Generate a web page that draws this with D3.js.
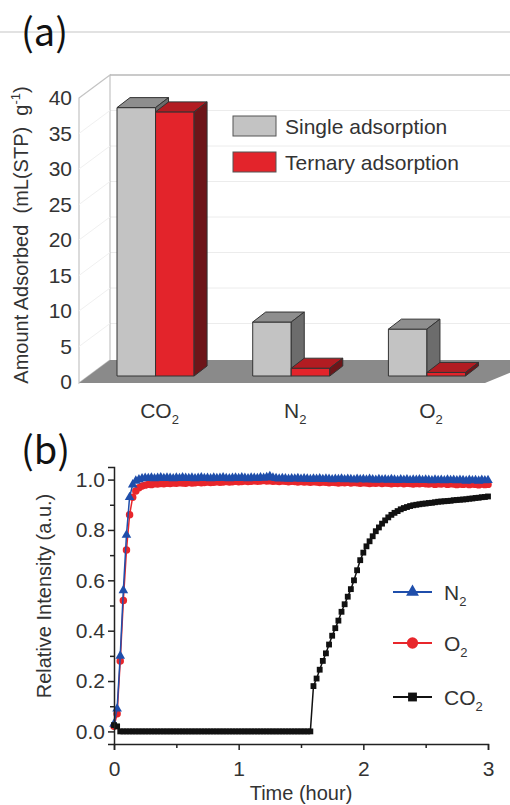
<!DOCTYPE html>
<html>
<head>
<meta charset="utf-8">
<script src="https://cdnjs.cloudflare.com/ajax/libs/d3/7.8.5/d3.min.js"></script>
<style>
body { margin: 0; background: #fff; }
svg { display: block; }
</style>
</head>
<body>
<div id="chart"></div>
<script>
// ---- (a) adsorbed amounts
var gases           =   ['CO2', 'N2', 'O2'];
var series_names    =   ['Single adsorption', 'Ternary adsorption'];
var single_amount   =   [37.8, 7.6, 6.6];
var ternary_amount  =   [37.2, 1.1, 0.5];
var amount_ticks    =   [0, 5, 10, 15, 20, 25, 30, 35, 40];

// ---- (b) breakthrough curves
var time_h = [
    0, 0.025, 0.05, 0.075, 0.1, 0.125, 0.15, 0.175, 0.2, 0.225,
    0.25, 0.275, 0.3, 0.325, 0.35, 0.375, 0.4, 0.425, 0.45, 0.475,
    0.5, 0.525, 0.55, 0.575, 0.6, 0.625, 0.65, 0.675, 0.7, 0.725,
    0.75, 0.775, 0.8, 0.825, 0.85, 0.875, 0.9, 0.925, 0.95, 0.975,
    1.0, 1.025, 1.05, 1.075, 1.1, 1.125, 1.15, 1.175, 1.2, 1.225,
    1.25, 1.275, 1.3, 1.325, 1.35, 1.375, 1.4, 1.425, 1.45, 1.475,
    1.5, 1.525, 1.55, 1.575, 1.6, 1.625, 1.65, 1.675, 1.7, 1.725,
    1.75, 1.775, 1.8, 1.825, 1.85, 1.875, 1.9, 1.925, 1.95, 1.975,
    2.0, 2.025, 2.05, 2.075, 2.1, 2.125, 2.15, 2.175, 2.2, 2.225,
    2.25, 2.275, 2.3, 2.325, 2.35, 2.375, 2.4, 2.425, 2.45, 2.475,
    2.5, 2.525, 2.55, 2.575, 2.6, 2.625, 2.65, 2.675, 2.7, 2.725,
    2.75, 2.775, 2.8, 2.825, 2.85, 2.875, 2.9, 2.925, 2.95, 2.975,
    3.0
];
var n2_signal = [
    0.03, 0.09, 0.30, 0.56, 0.78, 0.93, 0.98, 0.995, 1.0, 1.004,
    1.006, 1.005, 1.007, 1.004, 1.006, 1.008, 1.005, 1.007, 1.006, 1.004,
    1.007, 1.005, 1.008, 1.006, 1.005, 1.007, 1.004, 1.006, 1.008, 1.005,
    1.006, 1.004, 1.007, 1.005, 1.006, 1.008, 1.005, 1.004, 1.006, 1.007,
    1.005, 1.008, 1.006, 1.004, 1.007, 1.006, 1.005, 1.008, 1.006, 1.009,
    1.013, 1.007, 1.005, 1.003, 1.005, 1.004, 1.002, 1.004, 1.003, 1.005,
    1.002, 1.004, 1.003, 1.001, 1.003, 1.002, 1.004, 1.001, 1.003, 1.002,
    1.0, 1.002, 1.001, 1.003, 1.0, 1.002, 1.001, 0.999, 1.002, 1.0,
    1.001, 0.999, 1.002, 1.0, 0.998, 1.001, 0.999, 1.0, 0.998, 1.001,
    0.999, 0.997, 1.0, 0.998, 1.0, 0.997, 0.999, 0.998, 1.0, 0.997,
    0.999, 0.998, 0.996, 0.999, 0.997, 0.998, 0.996, 0.999, 0.997, 0.998,
    0.996, 0.998, 0.997, 0.995, 0.998, 0.996, 0.997, 0.995, 0.998, 0.996,
    0.997
];
var o2_signal = [
    0.02, 0.07, 0.28, 0.52, 0.72, 0.86, 0.93, 0.955, 0.968, 0.975,
    0.978, 0.981, 0.98, 0.983, 0.982, 0.984, 0.983, 0.985, 0.984, 0.986,
    0.985, 0.987, 0.986, 0.985, 0.988, 0.986, 0.987, 0.989, 0.987, 0.988,
    0.99, 0.988, 0.989, 0.991, 0.989, 0.99, 0.992, 0.99, 0.991, 0.993,
    0.991, 0.992, 0.994, 0.992, 0.993, 0.995, 0.993, 0.994, 0.996, 0.994,
    0.995, 0.993, 0.994, 0.992, 0.994, 0.993, 0.991, 0.993, 0.992, 0.99,
    0.992, 0.99, 0.991, 0.989, 0.991, 0.99, 0.988, 0.99, 0.989, 0.987,
    0.989, 0.988, 0.986, 0.988, 0.987, 0.989, 0.986, 0.988, 0.987, 0.985,
    0.987, 0.986, 0.984, 0.986, 0.985, 0.987, 0.984, 0.986, 0.985, 0.983,
    0.985, 0.984, 0.986, 0.983, 0.985, 0.984, 0.982, 0.984, 0.983, 0.985,
    0.983, 0.982, 0.984, 0.981, 0.983, 0.982, 0.984, 0.981, 0.983, 0.982,
    0.98, 0.982, 0.981, 0.983, 0.98, 0.982, 0.981, 0.979, 0.982, 0.98,
    0.981
];
var co2_signal = [
    0.025, 0.02, 0, 0, 0, 0, 0, 0, 0, 0,
    0, 0, 0, 0, 0, 0, 0, 0, 0, 0,
    0, 0, 0, 0, 0, 0, 0, 0, 0, 0,
    0, 0, 0, 0, 0, 0, 0, 0, 0, 0,
    0, 0, 0, 0, 0, 0, 0, 0, 0, 0,
    0, 0, 0, 0, 0, 0, 0, 0, 0, 0,
    0, 0, 0, 0, 0.18, 0.21, 0.245, 0.28, 0.31, 0.345,
    0.38, 0.41, 0.44, 0.475, 0.505, 0.535, 0.565, 0.60, 0.64, 0.68,
    0.71, 0.735, 0.755, 0.775, 0.795, 0.81, 0.825, 0.838, 0.85, 0.86,
    0.868, 0.875, 0.882, 0.887, 0.891, 0.895, 0.898, 0.90, 0.902, 0.904,
    0.905, 0.907, 0.908, 0.91, 0.912, 0.913, 0.914, 0.915, 0.916, 0.918,
    0.919, 0.92, 0.921, 0.922, 0.924, 0.925, 0.927, 0.928, 0.93, 0.931,
    0.933
];
var time_ticks      =   [0, 1, 2, 3];
var intensity_ticks =   [0, 0.2, 0.4, 0.6, 0.8, 1.0];

var chart_width     =   510;
var chart_height    =   805;
var font            =   'Liberation Sans, Arial, Helvetica, sans-serif';
var text_color      =   '#333';

var svg = d3.select('#chart')
    .append('svg')
    .attr('width', chart_width)
    .attr('height', chart_height);

// chemical formula with subscript digits
function add_formula(sel, formula, sub_size, sub_dy) {
    var m = formula.match(/^([A-Za-z]+)(\d*)$/);
    sel.append('tspan').text(m[1]);
    if (m[2]) {
        sel.append('tspan').attr('dy', sub_dy).attr('font-size', sub_size).text(m[2]);
    }
}

// separator line on top
svg.append('line')
    .attr('x1', 0).attr('x2', chart_width)
    .attr('y1', 32).attr('y2', 32)
    .attr('stroke', '#c6c6c6')
    .attr('stroke-width', 1.2);

// panel letters
[['(a)', 46], ['(b)', 464]].forEach(function(p) {
    svg.append('text')
        .attr('x', 21).attr('y', p[1])
        .attr('font-family', 'Noto Sans CJK SC, Noto Sans, sans-serif')
        .attr('font-size', 38)
        .attr('fill', '#111')
        .text(p[0]);
});

// =============== (a) 3D bar chart ===============
var wall_x      =   79;     // front-left edge of side wall
var back_dx     =   31;     // depth of the box
var back_dy     =   -23;
var bar_dx      =   13;     // depth of each bar
var bar_dy      =   -10;
var plane_dy    =   -6;     // bars stand a bit behind the front edge

var y_a = d3.scaleLinear()
    .domain([0, 40])
    .range([382, 98]);

var x_gas = d3.scaleBand()
    .domain(gases)
    .range([117, 465.5])
    .paddingInner(0.432)
    .paddingOuter(0);

var x_series = d3.scaleBand()
    .domain(series_names)
    .range([0, x_gas.bandwidth()]);

var ga = svg.append('g');

function pts(arr) {
    return arr.map(function(p) { return p[0] + ',' + p[1]; }).join(' ');
}

var y_floor = y_a(0) + 1;
var y_top   = y_a(40);

// back wall
ga.append('rect')
    .attr('x', wall_x + back_dx).attr('y', y_top + back_dy)
    .attr('width', chart_width).attr('height', y_floor - y_top)
    .attr('fill', '#fff');

// grid lines on back wall and side wall
ga.selectAll('line.back-grid')
    .data(amount_ticks.slice(1, -1))
    .enter()
    .append('line')
    .attr('x1', wall_x + back_dx).attr('x2', chart_width)
    .attr('y1', function(d) { return y_a(d) + back_dy; })
    .attr('y2', function(d) { return y_a(d) + back_dy; })
    .attr('stroke', '#ececec')
    .attr('stroke-width', 1);

// side wall
ga.append('polygon')
    .attr('points', pts([[wall_x, y_top], [wall_x + back_dx, y_top + back_dy],
                         [wall_x + back_dx, y_floor + back_dy], [wall_x, y_floor]]))
    .attr('fill', '#fff')
    .attr('stroke', '#c4c4c4')
    .attr('stroke-width', 1.2);

ga.selectAll('line.side-grid')
    .data(amount_ticks.slice(1, -1))
    .enter()
    .append('line')
    .attr('x1', wall_x).attr('x2', wall_x + back_dx)
    .attr('y1', function(d) { return y_a(d); })
    .attr('y2', function(d) { return y_a(d) + back_dy; })
    .attr('stroke', '#f0f0f0')
    .attr('stroke-width', 1);

// top edge of back wall
ga.append('line')
    .attr('x1', wall_x + back_dx).attr('x2', chart_width)
    .attr('y1', y_top + back_dy).attr('y2', y_top + back_dy)
    .attr('stroke', '#b8b8b8')
    .attr('stroke-width', 1.5);

// floor
ga.append('polygon')
    .attr('points', pts([[wall_x, y_floor], [wall_x + back_dx, y_floor + back_dy],
                         [chart_width + back_dx, y_floor + back_dy], [485, y_floor]]))
    .attr('fill', '#8a8a8a');

// y tick labels
ga.selectAll('text.ytick')
    .data(amount_ticks)
    .enter()
    .append('text')
    .attr('x', 72)
    .attr('y', function(d) { return y_a(d); })
    .attr('dy', '0.35em')
    .attr('text-anchor', 'end')
    .attr('font-family', font)
    .attr('font-size', 21)
    .attr('fill', text_color)
    .text(function(d) { return d; });

// bars
var bar_colors = {
    'Single adsorption':  { front: '#c3c3c3', top: '#8e8e8e', side: '#6c6c6c' },
    'Ternary adsorption': { front: '#e3242b', top: '#b21c22', side: '#6d1519' }
};

var bar_data = [];
gases.forEach(function(g, i) {
    bar_data.push({ gas: g, series: series_names[0], value: single_amount[i] });
    bar_data.push({ gas: g, series: series_names[1], value: ternary_amount[i] });
});

var bars = ga.selectAll('g.bar')
    .data(bar_data)
    .enter()
    .append('g');

function bar_box(d) {
    var x0 = x_gas(d.gas) + x_series(d.series);
    var w  = x_series.bandwidth();
    return { x0: x0, x1: x0 + w, top: y_a(d.value) + plane_dy, base: y_a(0) + plane_dy };
}

bars.append('polygon')
    .attr('points', function(d) {
        var b = bar_box(d);
        return pts([[b.x0, b.top], [b.x1, b.top], [b.x1, b.base], [b.x0, b.base]]);
    })
    .attr('fill', function(d) { return bar_colors[d.series].front; });

bars.append('polygon')
    .attr('points', function(d) {
        var b = bar_box(d);
        return pts([[b.x0, b.top], [b.x0 + bar_dx, b.top + bar_dy],
                    [b.x1 + bar_dx, b.top + bar_dy], [b.x1, b.top]]);
    })
    .attr('fill', function(d) { return bar_colors[d.series].top; });

bars.append('polygon')
    .attr('points', function(d) {
        var b = bar_box(d);
        return pts([[b.x1, b.top], [b.x1 + bar_dx, b.top + bar_dy],
                    [b.x1 + bar_dx, b.base + bar_dy], [b.x1, b.base]]);
    })
    .attr('fill', function(d) { return bar_colors[d.series].side; });

bars.selectAll('polygon')
    .attr('stroke', '#333')
    .attr('stroke-width', 1)
    .attr('stroke-linejoin', 'round');

// category labels
ga.selectAll('text.cat')
    .data(gases)
    .enter()
    .append('text')
    .attr('x', function(d) { return x_gas(d) + x_gas.bandwidth() / 2 + 4; })
    .attr('y', 418)
    .attr('text-anchor', 'middle')
    .attr('font-family', font)
    .attr('font-size', 21)
    .attr('fill', text_color)
    .each(function(d) { add_formula(d3.select(this), d, 13, 6); });

// legend
var leg_a = ga.selectAll('g.leg')
    .data(series_names)
    .enter()
    .append('g')
    .attr('transform', function(d, i) { return 'translate(233,' + (116 + i * 36) + ')'; });

leg_a.append('rect')
    .attr('width', 43).attr('height', 20)
    .attr('fill', function(d) { return bar_colors[d].front; })
    .attr('stroke', '#555')
    .attr('stroke-width', 1);

leg_a.append('text')
    .attr('x', 52).attr('y', 10)
    .attr('dy', '0.36em')
    .attr('font-family', font)
    .attr('font-size', 21)
    .attr('fill', text_color)
    .text(function(d) { return d; });

// y title
var ya_title = ga.append('text')
    .attr('transform', 'translate(28,235) rotate(-90)')
    .attr('text-anchor', 'middle')
    .attr('font-family', font)
    .attr('font-size', 20)
    .attr('fill', text_color);
ya_title.append('tspan').attr('xml:space', 'preserve').text('Amount Adsorbed  (mL(STP)  g');
ya_title.append('tspan').attr('dy', -8).attr('font-size', 13).text('-1');
ya_title.append('tspan').attr('dy', 8).text(')');

// =============== (b) breakthrough curves ===============
var x_b = d3.scaleLinear()
    .domain([0, 3])
    .range([114, 488]);

var y_b = d3.scaleLinear()
    .domain([-0.05, 1.05])
    .range([744, 467]);

var gb = svg.append('g');

var series_b = [
    { name: 'O2',  values: o2_signal,  color: '#e8262b', symbol: d3.symbolCircle,   size: 44, leg_size: 100 },
    { name: 'N2',  values: n2_signal,  color: '#1f4eab', symbol: d3.symbolTriangle, size: 40, leg_size: 72 },
    { name: 'CO2', values: co2_signal, color: '#111111', symbol: d3.symbolSquare,   size: 34, leg_size: 78 }
];

var line_b = d3.line()
    .x(function(d) { return x_b(d.t); })
    .y(function(d) { return y_b(d.v); });

series_b.forEach(function(s) {
    var pts_b = time_h.map(function(t, i) { return { t: t, v: s.values[i] }; });
    gb.append('path')
        .datum(pts_b)
        .attr('d', line_b)
        .attr('fill', 'none')
        .attr('stroke', s.color)
        .attr('stroke-width', 1.5);
    gb.selectAll(null)
        .data(pts_b)
        .enter()
        .append('path')
        .attr('d', d3.symbol().type(s.symbol).size(s.size))
        .attr('transform', function(d) { return 'translate(' + x_b(d.t) + ',' + y_b(d.v) + ')'; })
        .attr('fill', s.color);
});

// axes
gb.append('g')
    .attr('transform', 'translate(0,744)')
    .call(d3.axisBottom(x_b).tickValues(time_ticks).tickSize(6).tickPadding(11).tickFormat(d3.format('d')));
gb.append('g')
    .attr('transform', 'translate(0,744)')
    .call(d3.axisBottom(x_b).tickValues([0.5, 1.5, 2.5]).tickSize(4).tickFormat(''))
    .select('.domain').remove();

gb.append('g')
    .attr('transform', 'translate(114,0)')
    .call(d3.axisLeft(y_b).tickValues(intensity_ticks).tickSize(6).tickPadding(3).tickFormat(d3.format('.1f')));
gb.append('g')
    .attr('transform', 'translate(114,0)')
    .call(d3.axisLeft(y_b).tickValues([0.1, 0.3, 0.5, 0.7, 0.9]).tickSize(4).tickFormat(''))
    .select('.domain').remove();

gb.selectAll('.domain, .tick line')
    .attr('stroke', '#222')
    .attr('stroke-width', 1.5);
gb.selectAll('.tick text')
    .attr('font-family', font)
    .attr('font-size', 21)
    .attr('fill', text_color);

// axis titles
gb.append('text')
    .attr('x', 301).attr('y', 800)
    .attr('text-anchor', 'middle')
    .attr('font-family', font)
    .attr('font-size', 20)
    .attr('fill', text_color)
    .text('Time (hour)');

gb.append('text')
    .attr('transform', 'translate(51,596) rotate(-90)')
    .attr('text-anchor', 'middle')
    .attr('font-family', font)
    .attr('font-size', 20)
    .attr('fill', text_color)
    .text('Relative Intensity (a.u.)');

// legend
var leg_order = ['N2', 'O2', 'CO2'];
var leg_y     = [592, 643, 697];
leg_order.forEach(function(name, i) {
    var s = series_b.filter(function(d) { return d.name === name; })[0];
    var g = gb.append('g').attr('transform', 'translate(0,' + leg_y[i] + ')');
    g.append('line')
        .attr('x1', 393).attr('x2', 432)
        .attr('stroke', s.color)
        .attr('stroke-width', 2);
    g.append('path')
        .attr('d', d3.symbol().type(s.symbol).size(s.leg_size))
        .attr('transform', 'translate(412.5,0)')
        .attr('fill', s.color);
    g.append('text')
        .attr('x', 444).attr('y', 0)
        .attr('dy', '0.36em')
        .attr('font-family', font)
        .attr('font-size', 21)
        .attr('fill', text_color)
        .each(function() { add_formula(d3.select(this), name, 13, 6); });
});
</script>
</body>
</html>
